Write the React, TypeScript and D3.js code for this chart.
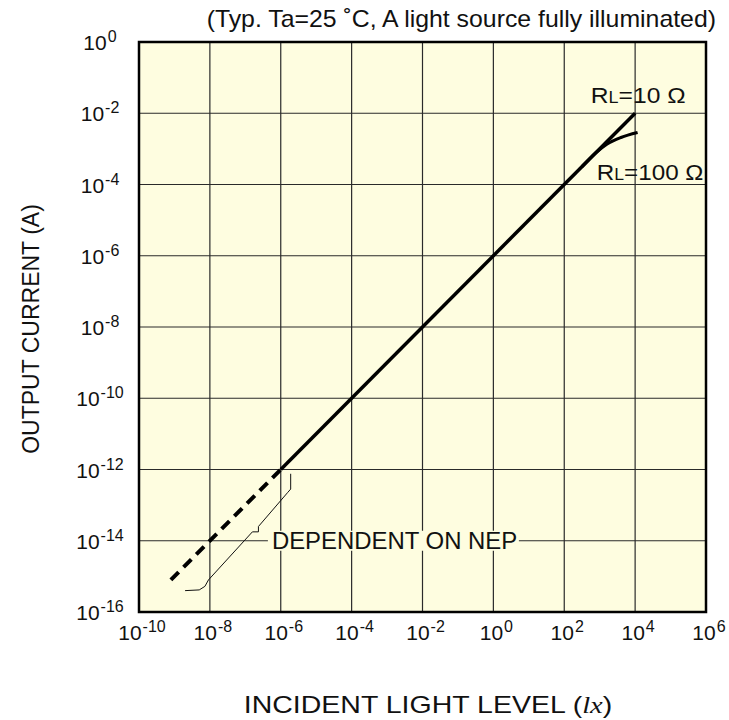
import React from "react";
import * as d3 from "d3";

// ---- data ----
const xExponents = [-10, -8, -6, -4, -2, 0, 2, 4, 6];
const yExponents = [-16, -14, -12, -10, -8, -6, -4, -2, 0];
// solid response line (RL = 10 ohm)
const rl10Line: [number, number][] = [
  [1e-6, 1e-12],
  [1e4, 1e-2],
];
// dashed (dependent on NEP) portion
const nepLine: [number, number][] = [
  [Math.pow(10, -9.1), Math.pow(10, -15.1)],
  [1e-6, 1e-12],
];
// RL = 100 ohm saturation branch
const rl100Curve: [number, number][] = [
  [Math.pow(10, 2.5), Math.pow(10, -3.5)],
  [Math.pow(10, 2.88), Math.pow(10, -3.12)],
  [Math.pow(10, 3.2), Math.pow(10, -2.87)],
  [Math.pow(10, 3.6), Math.pow(10, -2.68)],
  [Math.pow(10, 4.07), Math.pow(10, -2.54)],
];
// brace annotating the NEP region (log10 coords)
const braceLog: [number, number][] = [
  [-5.72, -12.12],
  [-5.72, -12.55],
  [-5.8, -12.64],
  [-6.63, -13.6],
  [-6.63, -13.75],
  [-6.8, -13.75],
  [-8.04, -15.1],
  [-8.14, -15.28],
  [-8.3, -15.38],
  [-8.7, -15.4],
];
const titleText = "(Typ. Ta=25 ˚C, A light source fully illuminated)";
const yTitle = "OUTPUT CURRENT (A)";
const nepLabel = "DEPENDENT ON NEP";

const W = 729;
const H = 720;
const margin = { left: 139, right: 729 - 706, top: 42, bottom: 720 - 612 };
const BG = "#FEFDE0";
const FONT = "'Liberation Sans', Arial, Helvetica, sans-serif";

export default function App() {
  const x = d3
    .scaleLog()
    .domain([1e-10, 1e6])
    .range([margin.left, W - margin.right]);
  const y = d3
    .scaleLog()
    .domain([1e-16, 1])
    .range([H - margin.bottom, margin.top]);
  const xl = (v: number) => x(Math.pow(10, v));
  const yl = (v: number) => y(Math.pow(10, v));

  const line = d3
    .line<[number, number]>()
    .x((d) => x(d[0]))
    .y((d) => y(d[1]));
  const curve = d3
    .line<[number, number]>()
    .x((d) => x(d[0]))
    .y((d) => y(d[1]))
    .curve(d3.curveMonotoneX);
  const braceLine = d3
    .line<[number, number]>()
    .x((d) => xl(d[0]))
    .y((d) => yl(d[1]));

  const [x0, x1] = x.range();
  const [y0, y1] = y.range();

  const labelX = xl(-6.25);
  const labelY = yl(-14);

  return (
    <svg
      width={W}
      height={H}
      style={{ position: "absolute", left: 0, top: 0, background: "#fff" }}
      fontFamily={FONT}
    >
      <rect x={x0} y={y1} width={x1 - x0} height={y0 - y1} fill={BG} />
      {/* grid */}
      {xExponents.map((e) => (
        <line
          key={"gx" + e}
          x1={xl(e)}
          x2={xl(e)}
          y1={y1}
          y2={y0}
          stroke="#2a2a2a"
          strokeWidth={1.2}
        />
      ))}
      {yExponents.map((e) => (
        <line
          key={"gy" + e}
          x1={x0}
          x2={x1}
          y1={yl(e)}
          y2={yl(e)}
          stroke="#2a2a2a"
          strokeWidth={1.2}
        />
      ))}
      {/* NEP label with background */}
      <rect x={labelX - 4} y={labelY - 10} width={251} height={20} fill={BG} />
      <g transform={`translate(${labelX}, ${labelY + 8}) scale(1.04, 1)`}>
        <text x={0} y={0} fontSize={23} fill="#111">
          {nepLabel}
        </text>
      </g>
      {/* brace */}
      <path d={braceLine(braceLog) || ""} fill="none" stroke="#111" strokeWidth={1} />
      {/* data lines */}
      <path
        d={line(nepLine) || ""}
        fill="none"
        stroke="#000"
        strokeWidth={4}
        strokeDasharray="11 7"
      />
      <path d={line(rl10Line) || ""} fill="none" stroke="#000" strokeWidth={3.5} />
      <path d={curve(rl100Curve) || ""} fill="none" stroke="#000" strokeWidth={3.2} />
      {/* frame */}
      <rect
        x={x0}
        y={y1}
        width={x1 - x0}
        height={y0 - y1}
        fill="none"
        stroke="#000"
        strokeWidth={2.5}
      />
      {/* y tick labels */}
      {yExponents.map((e) => (
        <text
          key={"ty" + e}
          x={100}
          y={yl(e) + 8}
          textAnchor="middle"
          fontSize={21}
          fill="#111"
        >
          <tspan>10</tspan>
          <tspan dy={-8} dx={1} fontSize={16}>
            {String(e)}
          </tspan>
        </text>
      ))}
      {/* x tick labels */}
      {xExponents.map((e) => (
        <text
          key={"tx" + e}
          x={xl(e) + 3}
          y={y0 + 28}
          textAnchor="middle"
          fontSize={21}
          fill="#111"
        >
          <tspan>10</tspan>
          <tspan dy={-8} dx={1} fontSize={16}>
            {String(e)}
          </tspan>
        </text>
      ))}
      {/* RL labels */}
      <g transform={`translate(${xl(2.75)}, ${yl(-1.7)}) scale(1.12, 1)`}>
        <text x={0} y={0} fontSize={22} fill="#111">
          R<tspan fontSize={16}>L</tspan>=10 Ω
        </text>
      </g>
      <g transform={`translate(${xl(2.92)}, ${yl(-3.87)}) scale(1.1, 1)`}>
        <text x={0} y={0} fontSize={22} fill="#111">
          R<tspan fontSize={16}>L</tspan>=100 Ω
        </text>
      </g>
      {/* title */}
      <g transform="translate(716, 27) scale(1.08, 1)">
        <text x={0} y={0} textAnchor="end" fontSize={23} fill="#111">
          {titleText}
        </text>
      </g>
      {/* axis titles */}
      <text
        transform={`translate(39, ${(y0 + y1) / 2 + 2}) rotate(-90)`}
        textAnchor="middle"
        fontSize={23}
        fill="#111"
      >
        {yTitle}
      </text>
      <g transform="translate(428, 713) scale(1.24, 1)">
        <text x={0} y={0} textAnchor="middle" fontSize={23} fill="#111">
          INCIDENT LIGHT LEVEL (
          <tspan fontFamily="'Liberation Serif', 'Times New Roman', serif" fontStyle="italic">
            lx
          </tspan>
          )
        </text>
      </g>
    </svg>
  );
}
